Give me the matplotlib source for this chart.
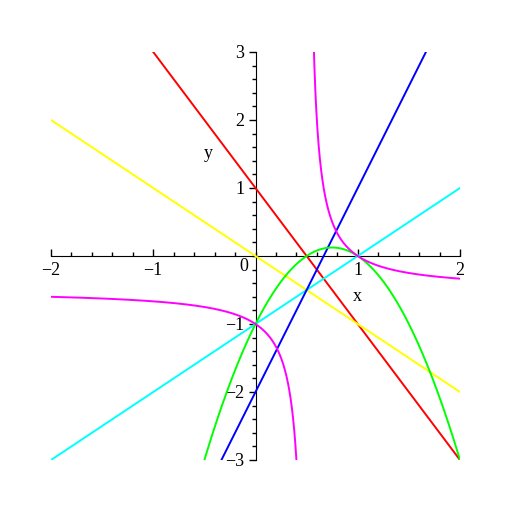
import numpy as np
import matplotlib
matplotlib.use("Agg")
import matplotlib.pyplot as plt
from matplotlib.ticker import MultipleLocator

# line coefficients: y = a*x + b
lines = {
    "red": (-2, 1),
    "yellow": (-1, 0),
    "cyan": (1, -1),
    "blue": (3, -2),
}
# parabola y = p0*x^2 + p1*x + p2
parab = (-2, 3, -1)
# hyperbola y = (h0 + h1*x) / (h2*x + h3)
hyper = (1, -1, 2, -1)

xticks = [-2, -1, 1, 2]
yticks = [-3, -2, -1, 1, 2, 3]

plt.rcParams['font.family'] = ['Liberation Serif', 'DejaVu Serif']

fig = plt.figure(figsize=(5.12, 5.12), dpi=100)
ax = fig.add_axes([51/512, 52/512, 409/512, 408/512])
ax.set_xlim(-2, 2)
ax.set_ylim(-3, 3)

x = np.linspace(-2, 2, 801)
for col, (a, b) in lines.items():
    ax.plot(x, a*x + b, color=col, lw=1.4, zorder=3)
ax.plot(x, parab[0]*x**2 + parab[1]*x + parab[2], color="#00ff00", lw=1.4, zorder=3)

for lo, hi in [(-2, 0.499), (0.501, 2)]:
    xx = np.linspace(lo, hi, 800)
    yy = (hyper[0] + hyper[1]*xx) / (hyper[2]*xx + hyper[3])
    yy = np.where(np.abs(yy) > 4, np.nan, yy)
    ax.plot(xx, yy, color="magenta", lw=1.4, zorder=3)

for s in ["top", "right"]:
    ax.spines[s].set_visible(False)
ax.spines["left"].set_position(("data", 0))
ax.spines["bottom"].set_position(("data", 0))
ax.spines["left"].set_zorder(1)
ax.spines["bottom"].set_zorder(1)

ax.set_xticks(xticks)
ax.set_xticklabels([str(t).replace("-", "\u2212") for t in xticks])
ax.set_yticks(yticks)
ax.set_yticklabels([str(t).replace("-", "\u2212") for t in yticks])
ax.xaxis.set_minor_locator(MultipleLocator(0.2))
ax.yaxis.set_minor_locator(MultipleLocator(0.2))
ax.tick_params(axis="x", which="both", direction="in", labelsize=13, pad=4)
ax.tick_params(axis="y", which="both", direction="out", labelsize=13, pad=3)
ax.tick_params(which="major", length=5, width=1)
ax.tick_params(which="minor", length=3, width=1)

ax.text(-0.11, -0.03, "0", fontsize=13, ha="center", va="top")
ax.text(1.0, -0.6, "x", fontsize=13, ha="center", va="center")
ax.text(-0.46, 1.51, "y", fontsize=13, ha="center", va="center")

fig.savefig("out.png", dpi=100)
